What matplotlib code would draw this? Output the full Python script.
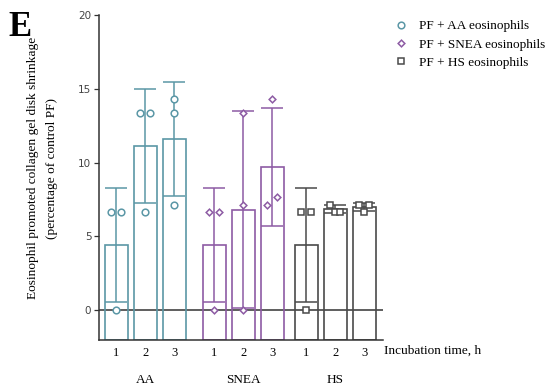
import matplotlib.pyplot as plt
import matplotlib.transforms as mtransforms
import numpy as np

plt.rcParams['font.family'] = ['Liberation Serif', 'DejaVu Serif']

# data (percentage of control PF)
groups = ['AA', 'SNEA', 'HS']
times = ['1', '2', '3']
legend_labels = ['PF + AA eosinophils', 'PF + SNEA eosinophils', 'PF + HS eosinophils']

aa_mean = [4.44, 11.11, 11.59]
aa_sd = [3.85, 3.85, 3.88]
aa_points = [[6.67, 6.67, 0.0], [13.33, 13.33, 6.67], [14.29, 13.33, 7.14]]

snea_mean = [4.44, 6.82, 9.71]
snea_sd = [3.85, 6.67, 3.98]
snea_points = [[6.67, 6.67, 0.0], [13.33, 7.14, 0.0], [14.29, 7.14, 7.69]]

hs_mean = [4.44, 6.83, 6.98]
hs_sd = [3.85, 0.27, 0.27]
hs_points = [[6.67, 6.67, 0.0], [7.14, 6.67, 6.67], [7.14, 7.14, 6.67]]

colors = ['#5B97A6', '#8D5BA4', '#4a4a4a']
markers = ['o', 'D', 's']
msizes = [4.8, 3.4, 4.6]
# horizontal spread of the dots in each bar (layout only)
jitter = [[-0.17, 0.17, 0.0], [-0.17, 0.17, 0.0], [0.0, 0.0, 0.0]]
jitter_s = [[-0.17, 0.17, 0.0], [0.0, 0.0, 0.0], [0.0, -0.17, 0.17]]
jitter_h = [[-0.17, 0.17, 0.0], [-0.17, 0.0, 0.17], [-0.17, 0.17, 0.0]]
group_start = [0.0, 3.38, 6.55]

ymin = -2
fig = plt.figure(figsize=(5.5, 3.92), dpi=100)
ax = fig.add_axes([0.18, 0.133, 0.516, 0.829])

all_means = [aa_mean, snea_mean, hs_mean]
all_sd = [aa_sd, snea_sd, hs_sd]
all_pts = [aa_points, snea_points, hs_points]
all_jit = [jitter, jitter_s, jitter_h]

xticks = []
for g in range(3):
    xs = group_start[g] + np.arange(3)
    xticks += list(xs)
    means = np.array(all_means[g])
    ax.bar(xs, means - ymin, bottom=ymin, width=0.8, facecolor='none',
           edgecolor=colors[g], linewidth=1.2, zorder=2)
    ax.errorbar(xs, means, yerr=all_sd[g], fmt='none', ecolor=colors[g],
                elinewidth=1.1, capsize=8, capthick=1.1, zorder=3)
    for i in range(3):
        ax.plot(xs[i] + np.array(all_jit[g][i]), all_pts[g][i], linestyle='none',
                marker=markers[g], markersize=msizes[g], markerfacecolor='white',
                markeredgecolor=colors[g], markeredgewidth=1.1, zorder=4,
                label=legend_labels[g] if i == 0 else None)

ax.axhline(0, color='#333333', linewidth=1.1, zorder=1)

ax.set_ylim(ymin, 20)
ax.set_xlim(-0.6, 9.19)
ax.set_yticks([0, 5, 10, 15, 20])
ax.set_yticklabels(['0', '5', '10', '15', '20'], family='DejaVu Sans', fontsize=7.5, color='#444444')
ax.tick_params(axis='y', length=3.5, width=0.9, color='#333333', pad=2)
ax.set_xticks(xticks)
ax.set_xticklabels(times * 3, fontsize=9)
ax.tick_params(axis='x', length=0, pad=5)
ax.spines['top'].set_visible(False)
ax.spines['right'].set_visible(False)
for s in ['left', 'bottom']:
    ax.spines[s].set_color('#333333')
    ax.spines[s].set_linewidth(1.1)

trans = mtransforms.blended_transform_factory(ax.transData, ax.transAxes)
for g in range(3):
    ax.text(group_start[g] + 1, -0.125, groups[g], transform=trans,
            ha='center', va='center', fontsize=9.5)
ax.text(1.003, -0.034, 'Incubation time, h', transform=ax.transAxes,
        ha='left', va='center', fontsize=9.5)

fig.text(0.06, 0.571, 'Eosinophil promoted collagen gel disk shrinkage',
         rotation=90, ha='center', va='center', fontsize=9.6)
fig.text(0.095, 0.571, '(percentage of control PF)',
         rotation=90, ha='center', va='center', fontsize=9.6)
fig.text(0.016, 0.972, 'E', fontsize=25, fontweight='bold', ha='left', va='top')

ax.legend(loc='upper left', bbox_to_anchor=(1.01, 1.008), frameon=False,
          fontsize=9.5, handlelength=1.2, handletextpad=0.75, labelspacing=0.45,
          borderaxespad=0.2)

plt.savefig('out.png', dpi=100)
